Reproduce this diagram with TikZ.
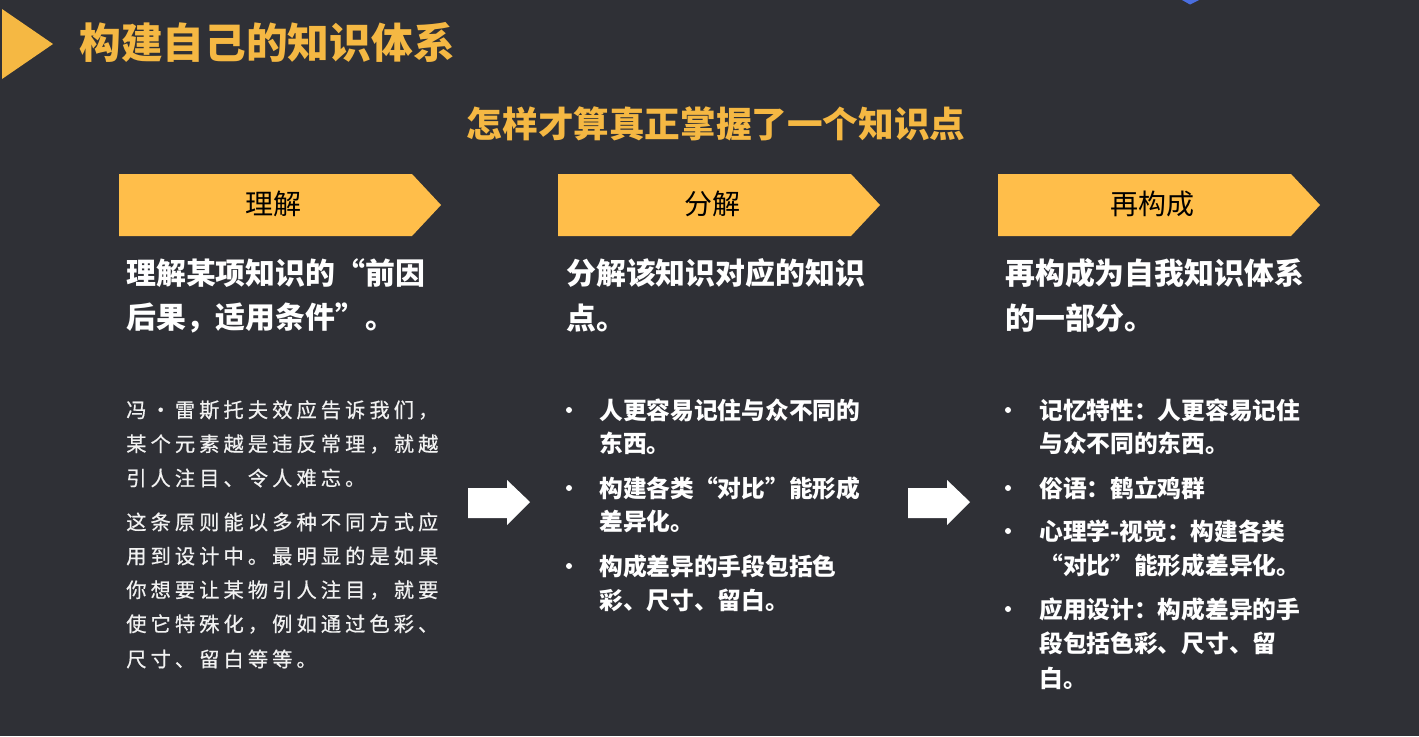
\documentclass[tikz,border=0pt]{standalone}
\usepackage{fontspec}
\setmainfont{Noto Sans CJK SC}
\newfontfamily\bodyfont[LetterSpace=20,FakeBold=0.6]{Noto Sans CJK SC}
\definecolor{bg}{HTML}{2F3036}
\definecolor{gold}{HTML}{F5B843}
\definecolor{boxfill}{HTML}{FFBE4A}
\definecolor{tipblue}{HTML}{4A6EE0}
\begin{document}
\begin{tikzpicture}[x=0.75pt,y=-0.75pt,
  title/.style={font=\fontsize{31.3}{35}\selectfont\bfseries, text=gold, anchor=west, inner sep=0},
  subtitle/.style={font=\fontsize{26.7}{30}\selectfont\bfseries, text=gold, inner sep=0},
  lbl/.style={font=\fontsize{21}{25}\selectfont, text=black, inner sep=0},
  head/.style={font=\fontsize{22.4}{26}\selectfont\bfseries, text=white, anchor=west, inner sep=0},
  body/.style={font=\bodyfont\fontsize{15.2}{18}\selectfont, text=white!95!black, anchor=west, inner sep=0},
  item/.style={font=\fontsize{17.8}{20}\selectfont\bfseries, text=white, anchor=west, inner sep=0},
  dot/.style={circle, fill=white, inner sep=0, minimum size=4.5pt},
  chev/.style={fill=boxfill},
  flow/.style={fill=white}
]
\fill[bg] (0,0) rectangle (1419,736);
\useasboundingbox (0,0) rectangle (1419,736);
% top blue tip
\fill[tipblue] (1182,0) -- (1190,4.5) -- (1199,0) -- cycle;
% title
\fill[gold] (2,9) -- (53,44) -- (2,79) -- cycle;
\node[title] (ttl) at (79,42) {构建自己的知识体系};
\node[subtitle] (sub) at (716,124) {怎样才算真正掌握了一个知识点};
% chevrons
\foreach \dx/\name/\txt in {0/b1/理解, 439/b2/分解, 879/b3/再构成}{
  \fill[chev] (119+\dx,174) -- (412+\dx,174) -- (441+\dx,205) -- (412+\dx,236) -- (119+\dx,236) -- cycle;
  \node[lbl] (\name) at (273+\dx,204) {\txt};
}
% headings
\node[head] (h1a) at (126,273) {理解某项知识的“前因};
\node[head] (h1b) at (126,318) {后果，适用条件”。};
\node[head] (h2a) at (566,273) {分解该知识对应的知识};
\node[head] (h2b) at (566,318) {点。};
\node[head] (h3a) at (1005,273) {再构成为自我知识体系};
\node[head] (h3b) at (1005,318) {的一部分。};
% column 1 body
\node[body] (t1) at (126,410) {冯・雷斯托夫效应告诉我们，};
\node[body] (t2) at (126,444) {某个元素越是违反常理，就越};
\node[body] (t3) at (126,478) {引人注目、令人难忘。};
\node[body] (t4) at (126,522) {这条原则能以多种不同方式应};
\node[body] (t5) at (126,556) {用到设计中。最明显的是如果};
\node[body] (t6) at (126,590) {你想要让某物引人注目，就要};
\node[body] (t7) at (126,624) {使它特殊化，例如通过色彩、};
\node[body] (t8) at (126,659) {尺寸、留白等等。};
% arrows
\fill[flow] (468,488) -- (507,488) -- (507,480) -- (530,502) -- (507,525) -- (507,518) -- (468,518) -- cycle;
\fill[flow] (908,488) -- (947,488) -- (947,480) -- (970,502) -- (947,525) -- (947,518) -- (908,518) -- cycle;
% column 2
\node[dot] (d21) at (569,410) {};
\node[item] (c21a) at (599,410) {人更容易记住与众不同的};
\node[item] (c21b) at (599,443) {东西。};
\node[dot] (d22) at (569,488) {};
\node[item] (c22a) at (599,488) {构建各类“对比”能形成};
\node[item] (c22b) at (599,521) {差异化。};
\node[dot] (d23) at (569,566) {};
\node[item] (c23a) at (599,566) {构成差异的手段包括色};
\node[item] (c23b) at (599,600) {彩、尺寸、留白。};
% column 3
\node[dot] (d31) at (1008,410) {};
\node[item] (c31a) at (1039,410) {记忆特性：人更容易记住};
\node[item] (c31b) at (1039,443) {与众不同的东西。};
\node[dot] (d32) at (1008,488) {};
\node[item] (c32a) at (1039,488) {俗语：鹤立鸡群};
\node[dot] (d33) at (1008,531) {};
\node[item] (c33a) at (1039,531) {心理学-视觉：构建各类};
\node[item] (c33b) at (1039,565) {“对比”能形成差异化。};
\node[dot] (d34) at (1008,609) {};
\node[item] (c34a) at (1039,609) {应用设计：构成差异的手};
\node[item] (c34b) at (1039,643) {段包括色彩、尺寸、留};
\node[item] (c34c) at (1039,678) {白。};
\end{tikzpicture}
\end{document}
